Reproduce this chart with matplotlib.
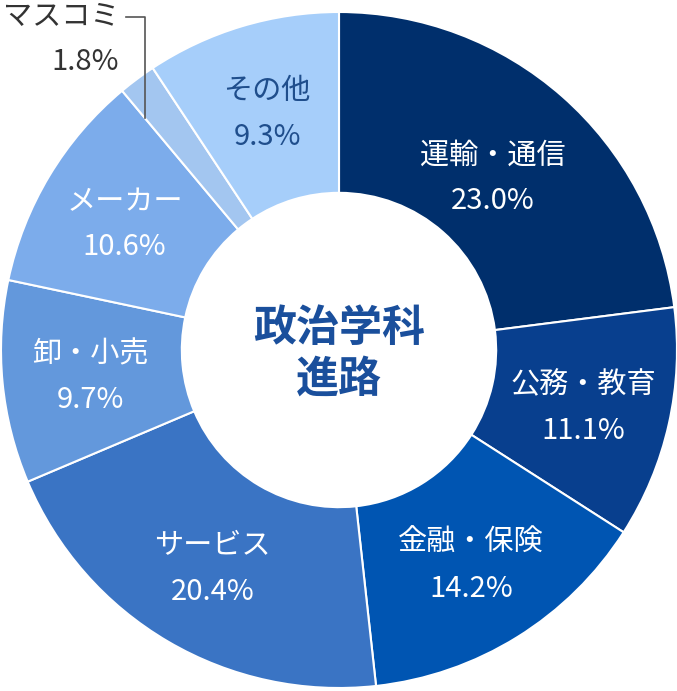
import numpy as np
import matplotlib
matplotlib.use("Agg")
import matplotlib.pyplot as plt

plt.rcParams['font.family'] = ['Noto Sans CJK JP', 'DejaVu Sans']

# データ
labels = ['運輸・通信', '公務・教育', '金融・保険', 'サービス', '卸・小売', 'メーカー', 'マスコミ', 'その他']
values = [23.0, 11.1, 14.2, 20.4, 9.7, 10.6, 1.8, 9.3]
colors = ['#002f6c', '#083f8e', '#0055b2', '#3a74c4', '#6398dc', '#7caceb', '#a3c6f0', '#a6cefa']
text_colors = ['white', 'white', 'white', 'white', 'white', 'white', '#333333', '#1f4e8c']
center_title = '政治学科\n進路'

W, H = 677, 691
cx, cy, R = 339, 350, 338

fig = plt.figure(figsize=(W / 100, H / 100), dpi=100)
ax = fig.add_axes([0, 0, 1, 1])

wedges, _ = ax.pie(values, colors=colors, startangle=90, counterclock=False,
                   radius=1.0, wedgeprops=dict(width=0.535, edgecolor='white', linewidth=1.5))

ax.set_xlim(-cx / R, (W - cx) / R)
ax.set_ylim(-(H - cy) / R, cy / R)
ax.set_aspect('equal')
ax.axis('off')

# ラベル
total = sum(values)
cum = 0
for lab, v, tc in zip(labels, values, text_colors):
    mid = 90 - (cum + v / 2) / total * 360
    cum += v
    if lab == 'マスコミ':
        continue
    r = 0.69 if lab == '運輸・通信' else 0.74
    x, y = r * np.cos(np.radians(mid)), r * np.sin(np.radians(mid))
    ax.text(x, y - 0.01, f"{lab}\n{v:.1f}%", ha='center', va='center', color=tc,
            fontsize=21, linespacing=1.68)

# マスコミは外側に引き出し線
ax.plot([-0.63, -0.574, -0.574], [0.985, 0.985, 0.686], color='#555555', lw=1.2)
ax.text(-0.65, 0.985, 'マスコミ', ha='right', va='center', color='#333333', fontsize=21)
ax.text(-0.65, 0.852, '1.8%', ha='right', va='center', color='#333333', fontsize=21)

ax.text(0, -0.01, center_title, ha='center', va='center', color='#1a4f9c',
        fontsize=31, fontweight='bold', linespacing=1.2)

fig.savefig('out.png', dpi=100)
